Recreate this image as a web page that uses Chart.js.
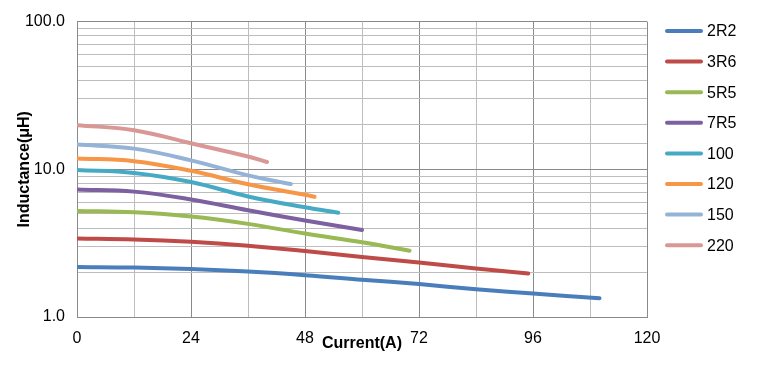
<!DOCTYPE html>
<html>
<head>
<meta charset="utf-8">
<script src="https://cdn.jsdelivr.net/npm/chart.js@4/dist/chart.umd.min.js"></script>
<style>
  html, body { margin: 0; padding: 0; background: #fff; }
  #wrap { width: 764px; height: 370px; }
</style>
</head>
<body>
<div id="wrap"><canvas id="c" width="764" height="370"></canvas></div>
<script>
// ---- data ----
const seriesNames = ['2R2', '3R6', '5R5', '7R5', '100', '120', '150', '220'];

const current2R2 = [0, 12, 24, 36, 48, 60, 72, 84, 96, 110];
const induct2R2  = [2.18, 2.16, 2.11, 2.03, 1.92, 1.79, 1.67, 1.54, 1.44, 1.34];

const current3R6 = [0, 12, 24, 36, 48, 60, 72, 84, 95];
const induct3R6  = [3.40, 3.35, 3.23, 3.04, 2.80, 2.55, 2.34, 2.13, 1.97];

const current5R5 = [0, 12, 24, 36, 48, 60, 70];
const induct5R5  = [5.23, 5.11, 4.79, 4.27, 3.67, 3.21, 2.81];

const current7R5 = [0, 12, 24, 36, 48, 60];
const induct7R5  = [7.31, 7.06, 6.25, 5.28, 4.50, 3.88];

const current100 = [0, 12, 24, 36, 48, 55];
const induct100  = [9.9, 9.45, 8.2, 6.55, 5.53, 5.08];

const current120 = [0, 12, 24, 36, 48, 50];
const induct120  = [11.85, 11.35, 9.77, 7.93, 6.72, 6.52];

const current150 = [0, 12, 24, 36, 45];
const induct150  = [14.7, 13.8, 11.5, 9.1, 7.95];

const current220 = [0, 12, 24, 36, 40];
const induct220  = [19.9, 18.4, 15.0, 12.2, 11.2];

const seriesColors = ['#4A7EBB', '#BE4B48', '#98B954', '#7D60A0', '#46AAC5', '#F79646', '#95B3D7', '#D99795'];

const xTickValues = [0, 24, 48, 72, 96, 120];
const yTickValues = [1, 10, 100];

const allCurrents = [current2R2, current3R6, current5R5, current7R5, current100, current120, current150, current220];
const allInducts  = [induct2R2, induct3R6, induct5R5, induct7R5, induct100, induct120, induct150, induct220];

const FONT = '"Liberation Sans", Arial, sans-serif';

const datasets = seriesNames.map((name, i) => ({
  label: name,
  data: allCurrents[i].map((x, j) => ({ x: x, y: allInducts[i][j] })),
  borderColor: seriesColors[i],
  backgroundColor: seriesColors[i],
  borderWidth: 4,
  borderCapStyle: 'round',
  borderJoinStyle: 'round',
  pointRadius: 0,
  pointHoverRadius: 0,
  tension: 0.4,
  fill: false
}));

const legendPlugin = {
  id: 'sideLegend',
  afterDraw(chart) {
    const ctx = chart.ctx;
    ctx.save();
    chart.data.datasets.forEach((ds, i) => {
      const y = 31 + i * 30.6;
      ctx.strokeStyle = ds.borderColor;
      ctx.lineWidth = 4;
      ctx.lineCap = 'round';
      ctx.beginPath();
      ctx.moveTo(667, y);
      ctx.lineTo(701, y);
      ctx.stroke();
      ctx.fillStyle = '#000';
      ctx.font = '16px ' + FONT;
      ctx.textBaseline = 'middle';
      ctx.textAlign = 'left';
      ctx.fillText(ds.label, 707, y + 1);
    });
    ctx.restore();
  }
};

new Chart(document.getElementById('c'), {
  type: 'line',
  data: { datasets: datasets },
  options: {
    responsive: false,
    animation: false,
    devicePixelRatio: 1,
    layout: { padding: { top: 20, right: 117, left: 0, bottom: 0 } },
    plugins: {
      legend: { display: false },
      tooltip: { enabled: false },
      title: { display: false }
    },
    scales: {
      x: {
        type: 'linear',
        min: 0,
        max: 120,
        afterFit(scale) { scale.height = 53; },
        ticks: {
          stepSize: 12,
          autoSkip: false,
          maxRotation: 0,
          padding: 12,
          color: '#000',
          font: { family: FONT, size: 16 },
          callback: (v) => xTickValues.includes(v) ? String(v) : ''
        },
        grid: {
          drawTicks: false,
          lineWidth: 1,
          color: (c) => (c.tick && c.tick.value % 24 === 0) ? '#8a8a8a' : '#bdbdbd'
        },
        border: { display: true, color: '#8a8a8a', width: 1 },
        title: {
          display: true,
          text: 'Current(A)',
          color: '#000',
          font: { family: FONT, size: 16, weight: 'bold' },
          padding: { top: 0, bottom: 17 }
        }
      },
      y: {
        type: 'logarithmic',
        min: 1,
        max: 100,
        afterFit(scale) { scale.width = 77; },
        ticks: {
          autoSkip: false,
          padding: 12,
          color: '#000',
          font: { family: FONT, size: 16 },
          callback: (v) => yTickValues.includes(v) ? v.toFixed(1) : ''
        },
        grid: {
          drawTicks: false,
          lineWidth: 1,
          color: (c) => (c.tick && yTickValues.includes(c.tick.value)) ? '#8a8a8a' : '#bdbdbd'
        },
        border: { display: true, color: '#8a8a8a', width: 1 },
        title: {
          display: true,
          text: 'Inductance(μH)',
          color: '#000',
          font: { family: FONT, size: 16, weight: 'bold' },
          padding: { top: 15, bottom: 0 }
        }
      }
    }
  },
  plugins: [legendPlugin]
});
</script>
</body>
</html>
